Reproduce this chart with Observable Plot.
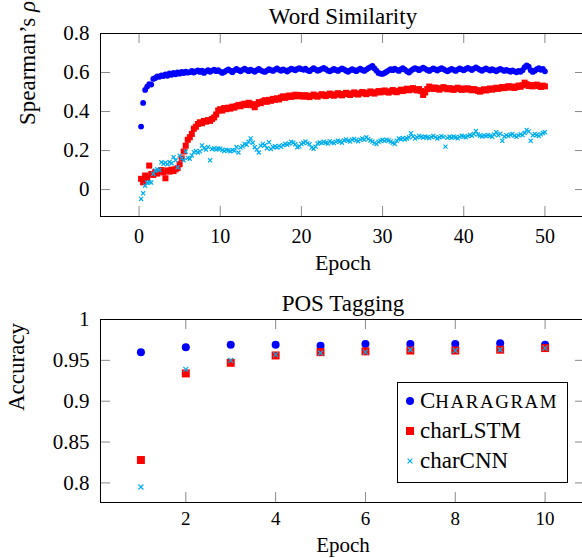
<!DOCTYPE html>
<html>
<head>
<meta charset="utf-8">
<script src="https://cdn.jsdelivr.net/npm/d3@7"></script>
<script src="https://cdn.jsdelivr.net/npm/@observablehq/plot@0.6"></script>
<style>
  html, body { margin: 0; padding: 0; overflow: hidden; background: #fff; }
  #wrap { position: relative; width: 582px; height: 558px; overflow: hidden; background: #fff; }
  #wrap > svg { position: absolute; left: 0; }
  #legend { position: absolute; left: 397px; top: 382px; width: 169px; height: 99px;
            border: 1px solid #000; background: #fff; font-family: 'Liberation Serif', serif; font-size: 23px; color: #000; }
  #legend .row { position: absolute; left: 0; height: 30px; display: flex; align-items: center; white-space: nowrap; }
  #legend svg { width: 22px; height: 30px; display: block; }
</style>
</head>
<body>
<div id="wrap"></div>
<script>
// ---------------- data ----------------
const seriesNames = ["CHARAGRAM", "charLSTM", "charCNN"];
const seriesColors = ["#0000ff", "#ff0000", "#00aeef"];

// Word similarity: one value every 0.25 epoch, epochs 0.25 ... 50
const wsEpochStep = 0.25;
const charagramWS = [
  0.323, 0.444, 0.511, 0.528, 0.541, 0.538, 0.567, 0.572, 0.580, 0.578,
  0.585, 0.582, 0.590, 0.583, 0.595, 0.588, 0.598, 0.591, 0.600, 0.594,
  0.603, 0.597, 0.605, 0.599, 0.602, 0.608, 0.600, 0.606, 0.611, 0.603,
  0.609, 0.598, 0.606, 0.612, 0.604, 0.610, 0.615, 0.607, 0.612, 0.605,
  0.598, 0.603, 0.610, 0.616, 0.609, 0.602, 0.611, 0.618, 0.612, 0.606,
  0.614, 0.620, 0.613, 0.607, 0.615, 0.610, 0.604, 0.612, 0.619, 0.611,
  0.606, 0.603, 0.610, 0.617, 0.612, 0.608, 0.615, 0.621, 0.614, 0.609,
  0.616, 0.611, 0.605, 0.613, 0.620, 0.616, 0.611, 0.618, 0.623, 0.617,
  0.614, 0.620, 0.611, 0.607, 0.615, 0.622, 0.616, 0.609, 0.613, 0.619,
  0.624, 0.617, 0.610, 0.606, 0.612, 0.618, 0.613, 0.608, 0.615, 0.621,
  0.616, 0.609, 0.604, 0.611, 0.617, 0.612, 0.607, 0.614, 0.620, 0.613,
  0.608, 0.615, 0.622, 0.628, 0.634, 0.621, 0.609, 0.598, 0.594, 0.593,
  0.598, 0.604, 0.611, 0.617, 0.612, 0.620, 0.614, 0.608, 0.616, 0.622,
  0.615, 0.606, 0.600, 0.609, 0.617, 0.623, 0.618, 0.612, 0.619, 0.625,
  0.619, 0.613, 0.608, 0.615, 0.621, 0.616, 0.610, 0.617, 0.623, 0.617,
  0.611, 0.606, 0.613, 0.619, 0.614, 0.608, 0.615, 0.621, 0.616, 0.611,
  0.618, 0.624, 0.619, 0.613, 0.620, 0.626, 0.620, 0.614, 0.609, 0.616,
  0.621, 0.615, 0.610, 0.617, 0.612, 0.606, 0.613, 0.619, 0.614, 0.608,
  0.614, 0.609, 0.604, 0.611, 0.606, 0.601, 0.608, 0.604, 0.612, 0.627,
  0.636, 0.630, 0.612, 0.603, 0.609, 0.617, 0.622, 0.614, 0.619, 0.606
];
const charlstmWS = [
  0.055, 0.037, 0.072, 0.060, 0.123, 0.080, 0.075, 0.090, 0.082, 0.095,
  0.100, 0.088, 0.058, 0.098, 0.092, 0.102, 0.095, 0.104, 0.110, 0.130,
  0.160, 0.195, 0.225, 0.255, 0.268, 0.285, 0.312, 0.322, 0.336, 0.345,
  0.340, 0.352, 0.348, 0.356, 0.352, 0.362, 0.370, 0.385, 0.405, 0.412,
  0.405, 0.418, 0.412, 0.420, 0.415, 0.425, 0.420, 0.428, 0.434, 0.427,
  0.436, 0.440, 0.433, 0.445, 0.440, 0.432, 0.422, 0.438, 0.448, 0.443,
  0.452, 0.458, 0.450, 0.460, 0.455, 0.465, 0.460, 0.468, 0.462, 0.472,
  0.478, 0.470, 0.476, 0.482, 0.475, 0.481, 0.486, 0.478, 0.485, 0.480,
  0.476, 0.484, 0.479, 0.474, 0.481, 0.487, 0.480, 0.476, 0.483, 0.489,
  0.484, 0.479, 0.486, 0.492, 0.485, 0.481, 0.488, 0.494, 0.487, 0.483,
  0.490, 0.496, 0.489, 0.485, 0.492, 0.498, 0.491, 0.487, 0.494, 0.500,
  0.494, 0.489, 0.497, 0.503, 0.496, 0.492, 0.499, 0.505, 0.498, 0.503,
  0.508, 0.501, 0.497, 0.504, 0.510, 0.503, 0.499, 0.506, 0.512, 0.505,
  0.511, 0.517, 0.509, 0.514, 0.520, 0.513, 0.508, 0.515, 0.505, 0.485,
  0.498, 0.515, 0.528, 0.522, 0.516, 0.523, 0.518, 0.512, 0.519, 0.525,
  0.519, 0.514, 0.520, 0.515, 0.511, 0.517, 0.522, 0.516, 0.511, 0.518,
  0.513, 0.519, 0.514, 0.509, 0.515, 0.511, 0.506, 0.502, 0.509, 0.514,
  0.508, 0.513, 0.518, 0.512, 0.517, 0.522, 0.516, 0.521, 0.526, 0.520,
  0.525, 0.530, 0.523, 0.528, 0.521, 0.526, 0.533, 0.527, 0.535, 0.548,
  0.540, 0.531, 0.536, 0.529, 0.534, 0.538, 0.531, 0.526, 0.533, 0.529
];
const charcnnWS = [
  -0.048, -0.019, 0.020, 0.035, 0.038, 0.036, 0.080, 0.098, 0.104, 0.100,
  0.140, 0.132, 0.138, 0.130, 0.141, 0.135, 0.166, 0.150, 0.114, 0.174,
  0.160, 0.150, 0.195, 0.162, 0.158, 0.175, 0.192, 0.198, 0.190, 0.196,
  0.226, 0.212, 0.205, 0.218, 0.150, 0.208, 0.212, 0.205, 0.211, 0.210,
  0.203, 0.198, 0.204, 0.200, 0.196, 0.203, 0.199, 0.218, 0.190, 0.215,
  0.222, 0.234, 0.230, 0.245, 0.262, 0.240, 0.217, 0.205, 0.190, 0.225,
  0.234, 0.228, 0.212, 0.243, 0.208, 0.218, 0.222, 0.216, 0.224, 0.219,
  0.228, 0.234, 0.230, 0.236, 0.245, 0.240, 0.232, 0.217, 0.222, 0.234,
  0.240, 0.246, 0.238, 0.232, 0.215, 0.209, 0.220, 0.236, 0.242, 0.238,
  0.245, 0.240, 0.236, 0.248, 0.242, 0.238, 0.245, 0.251, 0.246, 0.240,
  0.252, 0.257, 0.250, 0.246, 0.255, 0.260, 0.253, 0.248, 0.256, 0.262,
  0.255, 0.268, 0.260, 0.252, 0.246, 0.238, 0.234, 0.245, 0.250, 0.255,
  0.249, 0.256, 0.252, 0.246, 0.240, 0.234, 0.250, 0.262, 0.258, 0.264,
  0.257, 0.262, 0.268, 0.289, 0.272, 0.261, 0.268, 0.275, 0.270, 0.266,
  0.272, 0.268, 0.264, 0.270, 0.275, 0.269, 0.262, 0.268, 0.274, 0.270,
  0.220, 0.265, 0.271, 0.266, 0.272, 0.268, 0.263, 0.270, 0.276, 0.272,
  0.268, 0.274, 0.280, 0.276, 0.285, 0.300, 0.282, 0.276, 0.272, 0.278,
  0.274, 0.280, 0.275, 0.271, 0.282, 0.294, 0.278, 0.286, 0.250, 0.272,
  0.279, 0.274, 0.281, 0.285, 0.276, 0.270, 0.278, 0.284, 0.279, 0.290,
  0.306, 0.298, 0.250, 0.278, 0.285, 0.280, 0.275, 0.283, 0.290, 0.294
];

// POS tagging
const posEpochs = [1, 2, 3, 4, 5, 6, 7, 8, 9, 10];
const charagramPOS = [0.960, 0.966, 0.969, 0.969, 0.968, 0.970, 0.970, 0.970, 0.971, 0.969];
const charlstmPOS  = [0.828, 0.934, 0.947, 0.956, 0.960, 0.961, 0.962, 0.962, 0.963, 0.965];
const charcnnPOS   = [0.795, 0.939, 0.950, 0.957, 0.959, 0.960, 0.963, 0.962, 0.963, 0.965];

// ticks
const wsXTicks = [0, 10, 20, 30, 40, 50];
const wsYTicks = [0, 0.2, 0.4, 0.6, 0.8];
const posXTicks = [2, 4, 6, 8, 10];
const posYTicks = [0.8, 0.85, 0.9, 0.95, 1];

// ---------------- build ----------------
const FONT = "'Liberation Serif', 'Times New Roman', serif";
const GREY = "#8a8a8a";
const W = 590, ML = 100, MR = 5;
const symbols = ["circle", "square", "times"];

const wsSeries = [charagramWS, charlstmWS, charcnnWS];
const wsData = wsSeries.flatMap((vals, s) =>
  vals.map((v, i) => ({epoch: (i + 1) * wsEpochStep, value: v, s})));
const posSeries = [charagramPOS, charlstmPOS, charcnnPOS];
const posData = posSeries.flatMap((vals, s) =>
  vals.map((v, i) => ({epoch: posEpochs[i], value: v, s})));

function seriesMarks(data, radii) {
  return [0, 1, 2].map(s => {
    const d = data.filter(r => r.s === s);
    const opts = {x: "epoch", y: "value", symbol: symbols[s], r: radii[s]};
    if (s === 2) Object.assign(opts, {stroke: seriesColors[s], strokeWidth: 1.2, fill: "none"});
    else Object.assign(opts, {fill: seriesColors[s], stroke: "none"});
    return Plot.dot(d, opts);
  });
}

function panel({data, xDomain, yDomain, xTicks, yTicks, height, marginTop, marginBottom,
                title, titleDy, xlabelDy, xlabelSize, xTickSize, xTickPad, ylabel, ylabelDx, radii}) {
  const plotW = W - ML - MR, plotH = height - marginTop - marginBottom;
  return Plot.plot({
    width: W, height, marginLeft: ML, marginRight: MR, marginTop, marginBottom,
    style: {fontFamily: FONT, fontSize: "20px", maxWidth: "none", background: "white", color: "black", overflow: "visible"},
    x: {domain: xDomain, axis: null},
    y: {domain: yDomain, axis: null},
    marks: [
      Plot.tickX(xTicks, {x: d => d, insetTop: plotH - 10, stroke: GREY}),
      Plot.tickX(xTicks, {x: d => d, insetBottom: plotH - 10, stroke: GREY}),
      Plot.tickY(yTicks, {y: d => d, insetRight: plotW - 10, stroke: GREY}),
      Plot.tickY(yTicks, {y: d => d, insetLeft: plotW - 10, stroke: GREY}),
      Plot.axisX({ticks: xTicks, tickSize: 0, tickPadding: xTickPad, label: null, fontSize: xTickSize, tickFormat: d => String(d)}),
      Plot.axisY({ticks: yTicks, tickSize: 0, tickPadding: 11, label: null, fontSize: 21, tickFormat: d => String(d)}),
      ...seriesMarks(data, radii),
      Plot.frame({stroke: "black", strokeWidth: 1}),
      Plot.text([title], {text: d => d, frameAnchor: "top", lineAnchor: "middle", dy: titleDy, fontSize: 23}),
      Plot.text(["Epoch"], {text: d => d, frameAnchor: "bottom", lineAnchor: "middle", dy: xlabelDy, fontSize: xlabelSize}),
      Plot.text([ylabel], {text: d => d, frameAnchor: "left", lineAnchor: "middle", dx: ylabelDx, rotate: -90, fontSize: 23})
    ]
  });
}

const wrapEl = document.getElementById("wrap");

const wsPlot = panel({
  data: wsData, xDomain: [-4.75, 55], yDomain: [-0.138, 0.8],
  xTicks: wsXTicks, yTicks: wsYTicks, height: 279, marginTop: 33, marginBottom: 63,
  title: "Word Similarity", titleDy: -17, xlabelDy: 46, xlabelSize: 22, xTickSize: 20, xTickPad: 12,
  ylabel: "Spearman’s ρ", ylabelDx: -73, radii: [2.9, 3.4, 2.0]
});
wsPlot.style.top = "0px";
wrapEl.appendChild(wsPlot);

// italic rho
d3.select(wsPlot).selectAll("text").each(function () {
  if (this.textContent === "Spearman’s ρ") {
    this.textContent = "";
    d3.select(this).append("tspan").text("Spearman’s ");
    d3.select(this).append("tspan").attr("font-style", "italic").text("ρ");
  }
});

const posPlot = panel({
  data: posData, xDomain: [0.1, 10.9], yDomain: [0.776, 1.0],
  xTicks: posXTicks, yTicks: posYTicks, height: 279, marginTop: 40, marginBottom: 56,
  title: "POS Tagging", titleDy: -16, xlabelDy: 43, xlabelSize: 21, xTickSize: 19, xTickPad: 9,
  ylabel: "Accuracy", ylabelDx: -84, radii: [4, 4.5, 2.4]
});
posPlot.style.top = "279px";
wrapEl.appendChild(posPlot);

// legend
const legend = d3.select(wrapEl).append("div").attr("id", "legend");
seriesNames.forEach((name, i) => {
  const row = legend.append("div").attr("class", "row").style("top", (3 + i * 30) + "px");
  const svg = row.append("svg");
  if (i === 0) svg.append("circle").attr("cx", 12).attr("cy", 15).attr("r", 4).attr("fill", seriesColors[i]);
  if (i === 1) svg.append("rect").attr("x", 8).attr("y", 11).attr("width", 8).attr("height", 8).attr("fill", seriesColors[i]);
  if (i === 2) svg.append("path").attr("d", "M9.6,12.6L14.4,17.4M9.6,17.4L14.4,12.6").attr("stroke", seriesColors[i]).attr("stroke-width", 1.2);
  const label = row.append("span");
  if (i === 0) {
    label.append("span").text(name[0]);
    label.append("span").style("font-size", "0.82em").style("letter-spacing", "1.6px").text(name.slice(1));
  } else {
    label.text(name);
  }
});
</script>
</body>
</html>
